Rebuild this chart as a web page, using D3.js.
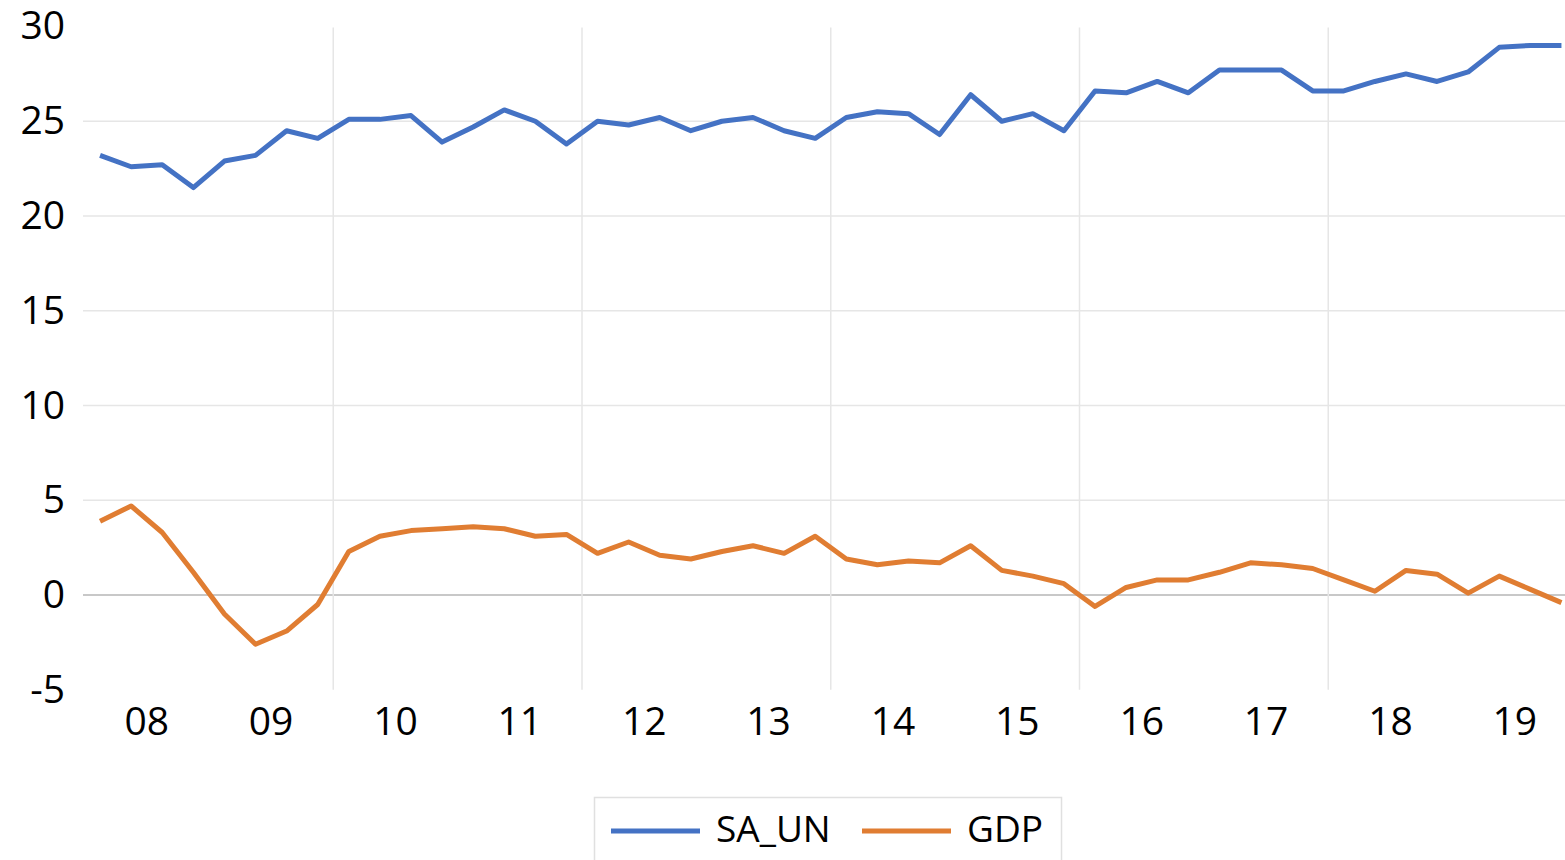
<!DOCTYPE html>
<html>
<head>
<meta charset="utf-8">
<script src="https://cdn.jsdelivr.net/npm/d3@7"></script>
<style>
  html, body { margin: 0; padding: 0; background: #fff; }
  svg { display: block; font-family: "Open Sans", "Noto Sans", sans-serif; }
</style>
</head>
<body>
<svg id="chart" width="1565" height="860"></svg>
<script>
const years = ["08","09","10","11","12","13","14","15","16","17","18","19"];
const quarters = years.flatMap(y => ["Q1","Q2","Q3","Q4"].map(q => y + q));
const yTicks = [-5, 0, 5, 10, 15, 20, 25, 30];
const gridYears = ["10","12","14","16","18"];

const saUn = [
  23.2, 22.6, 22.7, 21.5,
  22.9, 23.2, 24.5, 24.1,
  25.1, 25.1, 25.3, 23.9,
  24.7, 25.6, 25.0, 23.8,
  25.0, 24.8, 25.2, 24.5,
  25.0, 25.2, 24.5, 24.1,
  25.2, 25.5, 25.4, 24.3,
  26.4, 25.0, 25.4, 24.5,
  26.6, 26.5, 27.1, 26.5,
  27.7, 27.7, 27.7, 26.6,
  26.6, 27.1, 27.5, 27.1,
  27.6, 28.9, 29.0, 29.0
];
const gdp = [
  3.9, 4.7, 3.3, 1.2,
  -1.0, -2.6, -1.9, -0.5,
  2.3, 3.1, 3.4, 3.5,
  3.6, 3.5, 3.1, 3.2,
  2.2, 2.8, 2.1, 1.9,
  2.3, 2.6, 2.2, 3.1,
  1.9, 1.6, 1.8, 1.7,
  2.6, 1.3, 1.0, 0.6,
  -0.6, 0.4, 0.8, 0.8,
  1.2, 1.7, 1.6, 1.4,
  0.8, 0.2, 1.3, 1.1,
  0.1, 1.0, 0.3, -0.4
];
const seriesNames = ["SA_UN", "GDP"];
const colors = ["#4472C4", "#E07D32"];

const svg = d3.select("#chart");
const x0 = 84.5, x1 = 1577;
const xq = d3.scaleBand().domain(quarters).range([x0, x1]).padding(0);
const xy = d3.scaleBand().domain(years).range([x0, x1]).padding(0);
const y = d3.scaleLinear().domain([-5, 30]).range([689.8, 26.5]);

// horizontal gridlines (not at -5 / 30)
svg.append("g").selectAll("line")
  .data(yTicks.filter(t => t > -5 && t < 30))
  .join("line")
  .attr("x1", 83).attr("x2", 1565)
  .attr("y1", d => y(d)).attr("y2", d => y(d))
  .attr("stroke", d => d === 0 ? "#c8c8c8" : "#e6e6e6")
  .attr("stroke-width", d => d === 0 ? 2 : 1.5);

// vertical gridlines every two years
svg.append("g").selectAll("line")
  .data(gridYears)
  .join("line")
  .attr("x1", d => xy(d)).attr("x2", d => xy(d))
  .attr("y1", y(30) + 1).attr("y2", y(-5))
  .attr("stroke", "#e6e6e6")
  .attr("stroke-width", 1.5);

// y axis
const yAxis = svg.append("g")
  .attr("transform", "translate(83,0)")
  .call(d3.axisLeft(y).tickValues(yTicks).tickSize(0).tickPadding(18).tickFormat(d => String(d)));
yAxis.select(".domain").remove();
yAxis.selectAll("text").attr("font-size", 39).attr("fill", "#000")
  .attr("font-family", "\"Open Sans\", sans-serif");

// x axis
const xAxis = svg.append("g")
  .attr("transform", `translate(0,${y(-5)})`)
  .call(d3.axisBottom(xy).tickSize(0).tickPadding(18));
xAxis.select(".domain").remove();
xAxis.selectAll("text").attr("font-size", 39).attr("fill", "#000")
  .attr("font-family", "\"Open Sans\", sans-serif");

// lines
const line = d3.line()
  .x((d, i) => xq(quarters[i]) + xq.bandwidth() / 2)
  .y(d => y(d));
[saUn, gdp].forEach((s, k) => {
  svg.append("path")
    .datum(s)
    .attr("d", line)
    .attr("fill", "none")
    .attr("stroke", colors[k])
    .attr("stroke-width", 5)
    .attr("stroke-linejoin", "round");
});

// legend
const lg = svg.append("g");
lg.append("rect")
  .attr("x", 594.5).attr("y", 797.5)
  .attr("width", 467).attr("height", 80)
  .attr("fill", "#fff").attr("stroke", "#e0e0e0").attr("stroke-width", 1.5);
const legendX = [611, 862];
seriesNames.forEach((n, k) => {
  lg.append("line")
    .attr("x1", legendX[k]).attr("x2", legendX[k] + 89)
    .attr("y1", 831).attr("y2", 831)
    .attr("stroke", colors[k]).attr("stroke-width", 5);
  lg.append("text")
    .attr("x", legendX[k] + 105).attr("y", 842)
    .attr("font-size", 37).attr("fill", "#000")
    .text(n);
});
</script>
</body>
</html>
